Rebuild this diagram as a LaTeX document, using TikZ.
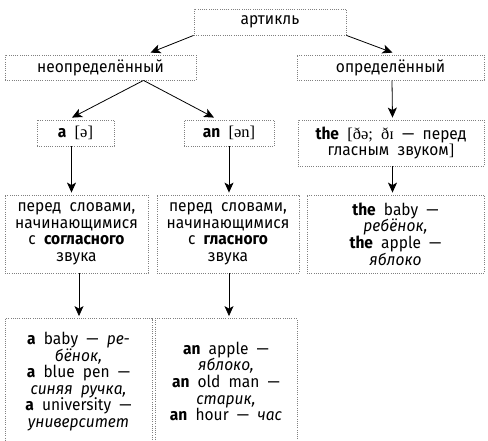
\documentclass[tikz,border=0pt]{standalone}
\usepackage{fontspec}
\setmainfont[FakeStretch=0.94, WordSpace=2]{Fira Sans}
\newfontfamily\ipa[WordSpace=2]{Liberation Serif}
\usetikzlibrary{arrows.meta}

\tikzstyle{b} = [align=center, rectangle, draw=gray, line width=0.8pt, dash pattern=on 0.8pt off 1.4pt, inner sep=0pt, text centered, font=\fontsize{16.5}{16.6}\selectfont]
\tikzstyle{l} = [-{Stealth[length=10pt, width=9pt, inset=2.5pt]}, line width=0.8pt]

\begin{document}
\begin{tikzpicture}[auto, x=1pt, y=1pt]
\useasboundingbox (0,0) rectangle (488,-440);
\node [b, minimum width=152pt, minimum height=26pt] (a) at (270,-22) {артикль};
\node [b, minimum width=191pt, minimum height=25pt] (b) at (100.5,-67.5) {неопределённый};
\node [b, minimum width=187pt, minimum height=25pt, right of=b, node distance=290pt] (c) {определённый};
\node [b, minimum width=77pt, minimum height=26pt] (d) at (75.5,-133) {\textbf{a} {\ipa[ə]}};
\node [b, minimum width=90pt, minimum height=26pt, right of=d, node distance=153.5pt] (e) {\textbf{an} {\ipa[ən]}};
\node [b, minimum width=186pt, minimum height=46pt] (f) at (391,-143) {\textbf{the} {\ipa[ðə; ðɪ} — перед\\гласным звуком{\ipa]}};
\node [b, minimum width=143pt, minimum height=78pt] (g) at (76.5,-234) {перед словами,\\начинающимися\\с \textbf{согласного}\\звука};
\node [b, minimum width=142pt, minimum height=78pt, right of=g, node distance=151.5pt] (h) {перед словами,\\начинающимися\\с \textbf{гласного}\\звука};
\node [b, minimum width=177pt, minimum height=78pt, right of=h, node distance=167.5pt] (i) {\textbf{the} baby —\\\textit{ребёнок,}\\\textbf{the} apple —\\\textit{яблоко}};
\node [b, minimum width=147pt, minimum height=126pt] (j) at (78.5,-381.5) {\textbf{a} baby — \textit{ре-}\\\textit{бёнок,}\\\textbf{a} blue pen —\\\textit{синяя ручка,}\\\textbf{a} university —\\\textit{университет}};
\node [b, minimum width=142pt, minimum height=126pt, right of=j, node distance=147.5pt] (k) {\textbf{an} apple —\\\textit{яблоко,}\\\textbf{an} old man —\\\textit{старик,}\\\textbf{an} hour — \textit{час}};

\draw [l] (a.south west) -- ([xshift=50pt, yshift=2pt]b.north);
\draw [l] (a.south east) -- ([xshift=2pt, yshift=2pt]c.north);
\draw [l] ([xshift=43pt]b.south) -- ([xshift=-3.5pt, yshift=2pt]d.north);
\draw [l] ([xshift=43pt]b.south) -- ([xshift=-15pt, yshift=2pt]e.north);
\draw [l] ([xshift=1.5pt]c.south) -- ([xshift=1.5pt, yshift=2pt]f.north);
\draw [l] ([xshift=-4pt]d.south) -- ([xshift=-4pt, yshift=2pt]d.south |- g.north);
\draw [l] (e.south) -- ([yshift=2pt]e.south |- h.north);
\draw [l] ([xshift=1.5pt]f.south) -- ([xshift=1.5pt, yshift=2pt]f.south |- i.north);
\draw [l] ([xshift=2.5pt]g.south) -- ([xshift=2.5pt, yshift=2pt]g.south |- j.north);
\draw [l] ([xshift=1pt]h.south) -- ([xshift=1pt, yshift=2pt]h.south |- k.north);
\end{tikzpicture}
\end{document}
